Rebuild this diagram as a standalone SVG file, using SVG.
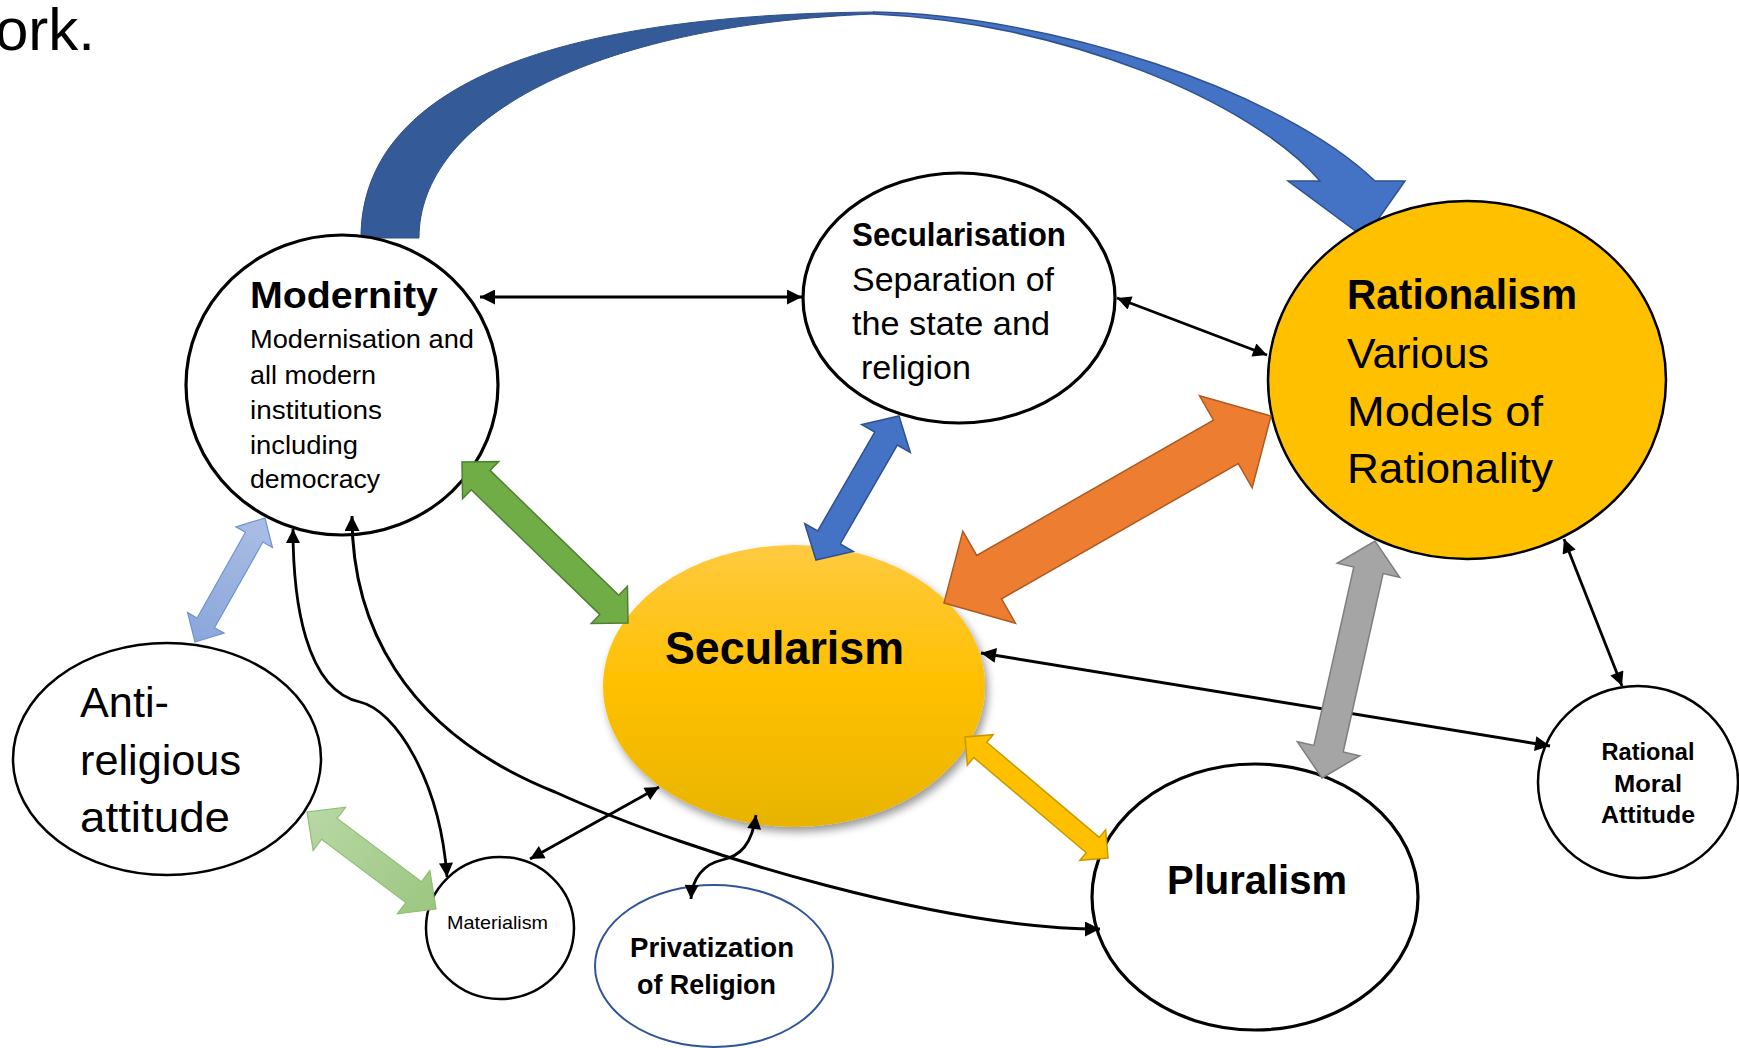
<svg xmlns="http://www.w3.org/2000/svg" width="1739" height="1048" viewBox="0 0 1739 1048">
<style>
text{font-family:"Liberation Sans",Arial,sans-serif;fill:#000}
.b{font-weight:bold}
.node{fill:#fff;stroke:#000;stroke-width:2.5}
.thick{stroke-width:3.2}
.ln{fill:none;stroke:#000;stroke-width:3;marker-start:url(#ah);marker-end:url(#ah)}
.ln2{fill:none;stroke:#000;stroke-width:2.8;marker-start:url(#ah2);marker-end:url(#ah2)}
</style>
<defs>
<marker id="ah" viewBox="0 0 10 10" refX="10" refY="5" markerWidth="16" markerHeight="15" markerUnits="userSpaceOnUse" orient="auto-start-reverse"><path d="M0,0 L10,5 L0,10 z" fill="#000"/></marker>
<marker id="ah2" viewBox="0 0 10 10" refX="10" refY="5" markerWidth="15" markerHeight="14" markerUnits="userSpaceOnUse" orient="auto-start-reverse"><path d="M0,0 L10,5 L0,10 z" fill="#000"/></marker>
<linearGradient id="secg" x1="0" y1="0" x2="0" y2="1">
<stop offset="0" stop-color="#FFCA40"/><stop offset="0.5" stop-color="#FFC000"/><stop offset="1" stop-color="#E8B400"/>
</linearGradient>
<linearGradient id="lbg" x1="265" y1="518" x2="195" y2="642" gradientUnits="userSpaceOnUse">
<stop offset="0" stop-color="#ABBEE4"/><stop offset="1" stop-color="#8AA6DA"/>
</linearGradient>
<linearGradient id="lgg" x1="307" y1="812" x2="436" y2="909" gradientUnits="userSpaceOnUse">
<stop offset="0" stop-color="#B8D8A5"/><stop offset="1" stop-color="#9CC681"/>
</linearGradient>
<filter id="sh" x="-20%" y="-20%" width="145%" height="145%">
<feDropShadow dx="3" dy="5" stdDeviation="4" flood-color="#000" flood-opacity="0.4"/>
</filter>
</defs>
<rect width="1739" height="1048" fill="#fff"/>
<text x="-5" y="50" font-size="60">ork.</text>

<g id="connectors-back">
<path d="M361,238 C361,100 520,15 874,12 L874,14 C590,25 419,120 419,238 Z" fill="#345A98" stroke="#2E5088" stroke-width="1"/>
<path d="M874,12 C1050,15 1280,90 1375,181 L1405,181 L1365,238 L1288,181 L1320,181 C1250,100 1060,22 874,14 Z" fill="#4472C4" stroke="#2F528F" stroke-width="1.5"/>
</g>

<g id="node-modernity">
<ellipse class="node thick" cx="342" cy="385" rx="156" ry="150"/>
<text class="b" x="250" y="308" font-size="37" textLength="188" lengthAdjust="spacingAndGlyphs">Modernity</text>
<text x="250" y="348" font-size="25.5" textLength="224" lengthAdjust="spacingAndGlyphs">Modernisation and</text>
<text x="250" y="384" font-size="25.5" textLength="126" lengthAdjust="spacingAndGlyphs">all modern</text>
<text x="250" y="419" font-size="25.5" textLength="132" lengthAdjust="spacingAndGlyphs">institutions</text>
<text x="250" y="454" font-size="25.5" textLength="108" lengthAdjust="spacingAndGlyphs">including</text>
<text x="250" y="488" font-size="25.5" textLength="130" lengthAdjust="spacingAndGlyphs">democracy</text>
</g>

<g id="node-secularisation">
<ellipse class="node thick" cx="959" cy="298" rx="156" ry="125"/>
<text class="b" x="852" y="246" font-size="33" textLength="214" lengthAdjust="spacingAndGlyphs">Secularisation</text>
<text x="852" y="291" font-size="33" textLength="202" lengthAdjust="spacingAndGlyphs">Separation of</text>
<text x="852" y="335" font-size="33" textLength="198" lengthAdjust="spacingAndGlyphs">the state and</text>
<text x="861" y="379" font-size="33" textLength="110" lengthAdjust="spacingAndGlyphs">religion</text>
</g>

<g id="node-rationalism">
<ellipse cx="1467" cy="380" rx="199" ry="179" fill="#FFC000" stroke="#000" stroke-width="2.5"/>
<text class="b" x="1347" y="309" font-size="42" textLength="230" lengthAdjust="spacingAndGlyphs">Rationalism</text>
<text x="1347" y="368" font-size="42" textLength="142" lengthAdjust="spacingAndGlyphs">Various</text>
<text x="1347" y="426" font-size="42" textLength="196" lengthAdjust="spacingAndGlyphs">Models of</text>
<text x="1347" y="483" font-size="42" textLength="206" lengthAdjust="spacingAndGlyphs">Rationality</text>
</g>

<g id="node-secularism">
<ellipse cx="794" cy="686" rx="191" ry="141" fill="url(#secg)" filter="url(#sh)"/>
<text class="b" x="665" y="664" font-size="47" textLength="239" lengthAdjust="spacingAndGlyphs">Secularism</text>
</g>

<g id="node-anti-religious">
<ellipse class="node" cx="167" cy="759" rx="154" ry="116"/>
<text x="80" y="717" font-size="42" textLength="89" lengthAdjust="spacingAndGlyphs">Anti-</text>
<text x="80" y="775" font-size="42" textLength="161" lengthAdjust="spacingAndGlyphs">religious</text>
<text x="80" y="832" font-size="42" textLength="150" lengthAdjust="spacingAndGlyphs">attitude</text>
</g>

<g id="node-materialism">
<ellipse class="node" cx="500" cy="928" rx="74" ry="71"/>
<text x="447" y="929" font-size="18.5" textLength="101" lengthAdjust="spacingAndGlyphs">Materialism</text>
</g>

<g id="node-privatization">
<ellipse cx="714" cy="966" rx="119" ry="81" fill="#fff" stroke="#2F5597" stroke-width="2"/>
<text class="b" x="630" y="957" font-size="28" textLength="164" lengthAdjust="spacingAndGlyphs">Privatization</text>
<text class="b" x="637" y="994" font-size="28" textLength="139" lengthAdjust="spacingAndGlyphs">of Religion</text>
</g>

<g id="node-pluralism">
<ellipse class="node thick" cx="1255" cy="897" rx="163" ry="133"/>
<text class="b" x="1167" y="894" font-size="41" textLength="180" lengthAdjust="spacingAndGlyphs">Pluralism</text>
</g>

<g id="node-rational-moral">
<ellipse class="node" cx="1638" cy="782" rx="100" ry="96"/>
<text class="b" x="1648" y="760" font-size="24" text-anchor="middle" textLength="93" lengthAdjust="spacingAndGlyphs">Rational</text>
<text class="b" x="1648" y="792" font-size="24" text-anchor="middle" textLength="68" lengthAdjust="spacingAndGlyphs">Moral</text>
<text class="b" x="1648" y="823" font-size="24" text-anchor="middle" textLength="94" lengthAdjust="spacingAndGlyphs">Attitude</text>
</g>

<g id="connectors">
<path class="ln" d="M480,297 L802,297"/>
<path class="ln2" d="M1117,298 L1267,355"/>
<path class="ln" d="M981,653 L1550,746"/>
<path class="ln2" d="M1564,539 L1622,686"/>
<path class="ln2" d="M659,787 L530,859"/>
<path class="ln2" d="M756,815 C752,845 740,856 722,860 C704,864 692,878 691,899"/>
<path class="ln2" d="M293,529 C293,600 305,690 360,702 C395,710 440,780 447,877"/>
<path class="ln" d="M352,516 C352,620 400,730 555,792 C700,858 950,929 1100,929"/>
<polygon points="944,603 1015.45,623.2 1001.55,598.89 1238.27,463.51 1252.17,487.82 1271,416 1199.55,395.8 1213.45,420.11 976.73,555.49 962.83,531.18" fill="#ED7D31" stroke="#AE5A21" stroke-width="1.5"/>
<polygon points="462,462 462.56,498.76 471.26,489.79 599.94,614.59 591.24,623.56 628,623 627.44,586.24 618.74,595.21 490.06,470.41 498.76,461.44" fill="#70AD47" stroke="#507E32" stroke-width="1.5"/>
<polygon points="816,560 853.24,551.45 840.24,543.96 897.28,445.02 910.28,452.51 899,416 861.76,424.55 874.76,432.04 817.72,530.98 804.72,523.49" fill="#4472C4" stroke="#2F528F" stroke-width="1.5"/>
<polygon points="1322,778 1359.78,755.7 1343.19,751.99 1383.09,573.55 1399.68,577.26 1375,541 1337.22,563.3 1353.81,567.01 1313.91,745.45 1297.32,741.74" fill="#A5A5A5" stroke="#7F7F7F" stroke-width="1.5"/>
<polygon points="965,737 967.35,765.19 973.81,757.56 1086.27,852.72 1079.81,860.35 1108,858 1105.65,829.81 1099.19,837.44 986.73,742.28 993.19,734.65" fill="#FFC000" stroke="#C59A00" stroke-width="1.5"/>
<polygon points="195,642 224.11,633.16 214.53,627.76 262.89,542.08 272.47,547.48 265,518 235.89,526.84 245.47,532.24 197.11,617.92 187.53,612.52" fill="url(#lbg)" stroke="#6E93D4" stroke-width="1.2"/>
<polygon points="307,812 313.15,850.41 321.57,839.22 405.81,902.56 397.39,913.75 436,909 429.85,870.59 421.43,881.78 337.19,818.44 345.61,807.25" fill="url(#lgg)" stroke="#8CC071" stroke-width="1.2"/>
</g>
</svg>
